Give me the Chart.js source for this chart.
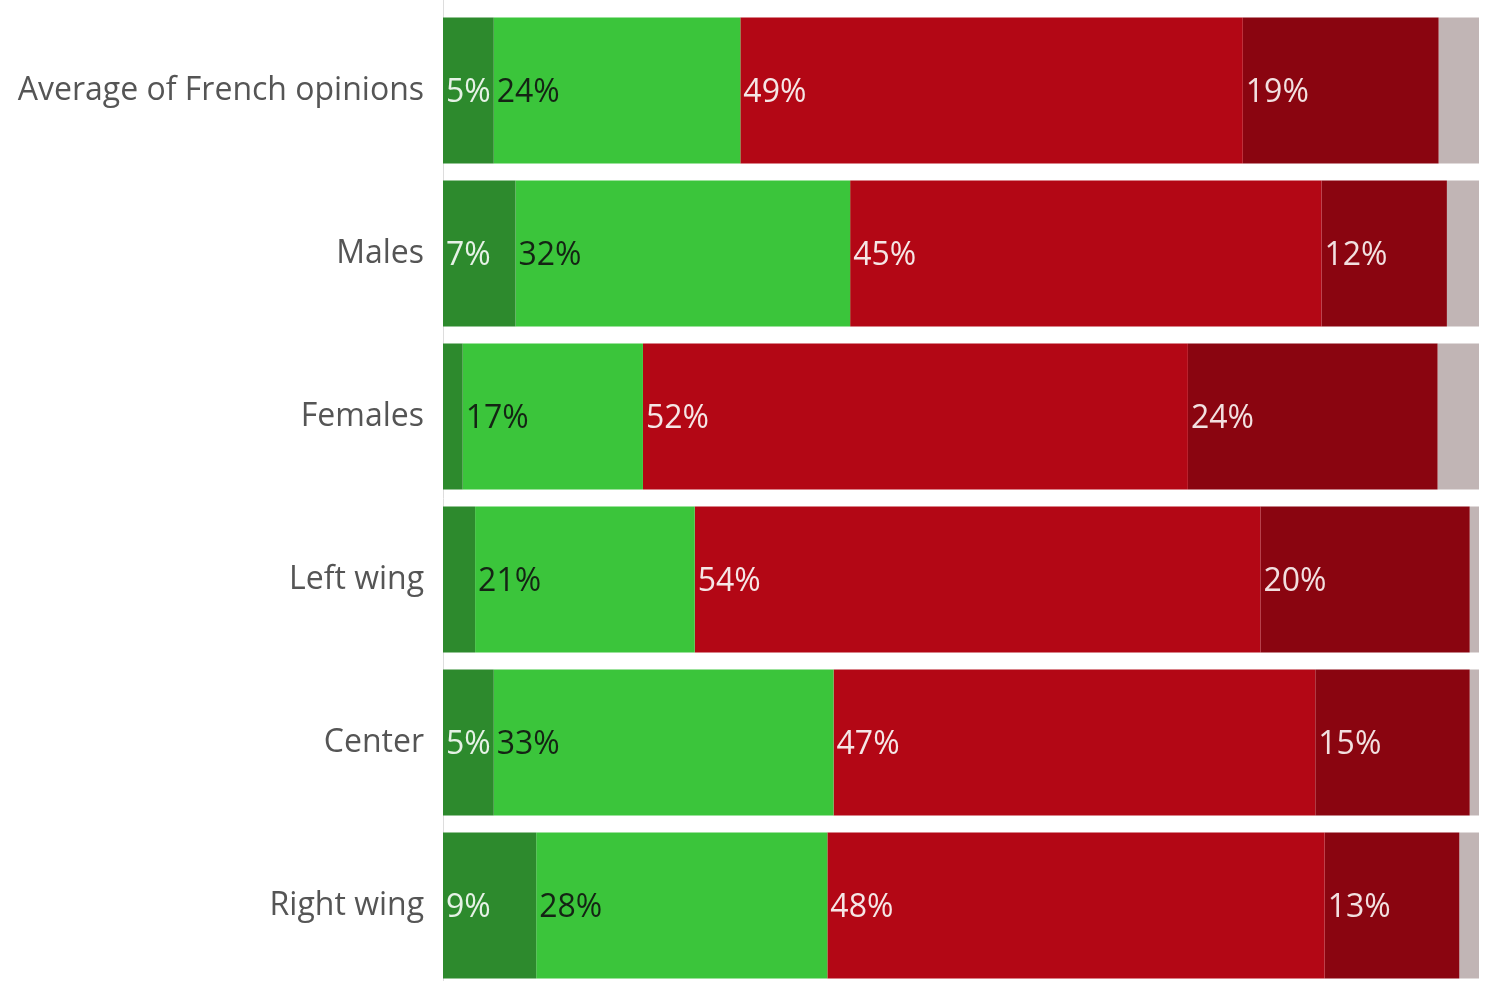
<!DOCTYPE html>
<html>
<head>
<meta charset="utf-8">
<script src="https://cdn.jsdelivr.net/npm/chart.js@4"></script>
<style>
  html, body { margin: 0; padding: 0; background: #fff; overflow: hidden; }
  #wrap { width: 1488px; height: 987px; }
</style>
</head>
<body>
<div id="wrap"><canvas id="chart"></canvas></div>
<script>
const groups = ['Average of French opinions', 'Males', 'Females', 'Left wing', 'Center', 'Right wing'];

// share of answers per group (percent)
const veryPositive = [4.9, 7.0, 1.9, 3.1, 4.9, 9.0];
const positive = [23.8, 32.3, 17.4, 21.2, 32.8, 28.1];
const negative = [48.5, 45.5, 52.6, 54.6, 46.5, 48.0];
const veryNegative = [18.9, 12.1, 24.1, 20.2, 14.9, 13.0];
const noAnswer = [3.9, 3.1, 4.0, 0.9, 0.9, 1.9];

// printed labels
const veryPositiveLabels = ['5%', '7%', null, null, '5%', '9%'];
const positiveLabels = ['24%', '32%', '17%', '21%', '33%', '28%'];
const negativeLabels = ['49%', '45%', '52%', '54%', '47%', '48%'];
const veryNegativeLabels = ['19%', '12%', '24%', '20%', '15%', '13%'];

const FONT = '"Open Sans", "Noto Sans", sans-serif';

const segmentLabels = {
  id: 'segmentLabels',
  afterDatasetsDraw(chart) {
    const ctx = chart.ctx;
    ctx.save();
    ctx.font = '32px ' + FONT;
    ctx.textBaseline = 'middle';
    ctx.textAlign = 'left';
    chart.data.datasets.forEach((ds, i) => {
      if (!ds.valueLabels) return;
      chart.getDatasetMeta(i).data.forEach((bar, j) => {
        const txt = ds.valueLabels[j];
        if (!txt) return;
        ctx.fillStyle = ds.labelColor;
        ctx.fillText(txt, Math.min(bar.base, bar.x) + 3, bar.y + 2);
      });
    });
    // axis line runs up to the top edge
    ctx.strokeStyle = '#dddddd';
    ctx.lineWidth = 1;
    ctx.beginPath();
    ctx.moveTo(chart.chartArea.left + 0.5, 0);
    ctx.lineTo(chart.chartArea.left + 0.5, chart.chartArea.top);
    ctx.stroke();
    ctx.restore();
  }
};

new Chart(document.getElementById('chart').getContext('2d'), {
  type: 'bar',
  data: {
    labels: groups,
    datasets: [
      { data: veryPositive, backgroundColor: '#2d8a2d', valueLabels: veryPositiveLabels, labelColor: '#e6f2e6' },
      { data: positive, backgroundColor: '#3bc53b', valueLabels: positiveLabels, labelColor: '#142414' },
      { data: negative, backgroundColor: '#b30715', valueLabels: negativeLabels, labelColor: '#f5e6e6' },
      { data: veryNegative, backgroundColor: '#8a0510', valueLabels: veryNegativeLabels, labelColor: '#f2e0e0' },
      { data: noAnswer, backgroundColor: '#c1b5b5' }
    ]
  },
  options: {
    indexAxis: 'y',
    responsive: true,
    maintainAspectRatio: false,
    animation: false,
    layout: { padding: { top: 9, right: 9, bottom: 0, left: 0 } },
    datasets: {
      bar: { categoryPercentage: 1, barPercentage: 0.896, borderWidth: 0 }
    },
    plugins: {
      legend: { display: false },
      tooltip: { enabled: false }
    },
    scales: {
      x: { stacked: true, min: 0, max: 100, display: false },
      y: {
        stacked: true,
        grid: { display: false },
        border: { display: true, color: '#dddddd', width: 1 },
        ticks: {
          color: '#555555',
          padding: 11,
          font: { family: FONT, size: 32 }
        },
        afterFit(scale) {
          scale.width = 443;
          scale.paddingTop = 0;
          scale.paddingBottom = 0;
        }
      }
    }
  },
  plugins: [segmentLabels]
});
</script>
</body>
</html>
